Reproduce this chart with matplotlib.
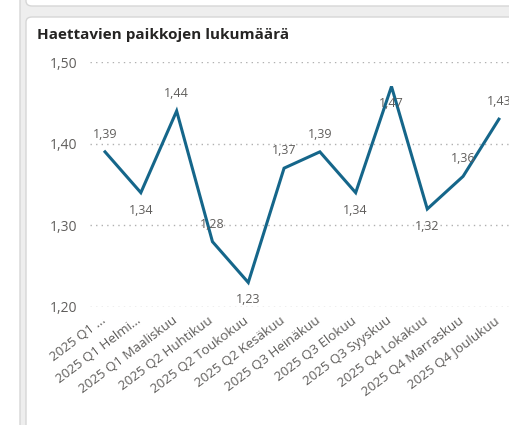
import matplotlib
matplotlib.use('Agg')
import matplotlib.pyplot as plt
import matplotlib.transforms as mtransforms
from matplotlib.patches import FancyBboxPatch

plt.rcParams['font.family'] = ['Open Sans', 'DejaVu Sans']

# data
months = ['2025 Q1 ...', '2025 Q1 Helmi...', '2025 Q1 Maaliskuu', '2025 Q2 Huhtikuu',
          '2025 Q2 Toukokuu', '2025 Q2 Kesäkuu', '2025 Q3 Heinäkuu', '2025 Q3 Elokuu',
          '2025 Q3 Syyskuu', '2025 Q4 Lokakuu', '2025 Q4 Marraskuu', '2025 Q4 Joulukuu']
values = [1.39, 1.34, 1.44, 1.28, 1.23, 1.37, 1.39, 1.34, 1.47, 1.32, 1.36, 1.43]
label_above = [True, False, True, True, False, True, True, False, False, False, True, True]
yticks = [1.20, 1.30, 1.40, 1.50]

W, H = 510, 425
fig = plt.figure(figsize=(W / 100, H / 100), dpi=100)
fig.patch.set_facecolor('#eeeeee')

def card(x0, y0, x1, y1):
    # pixel coords, y from top
    p = FancyBboxPatch((x0 / W, 1 - y1 / H), (x1 - x0) / W, (y1 - y0) / H,
                       boxstyle='round,pad=0,rounding_size=0.012',
                       transform=fig.transFigure, facecolor='white',
                       edgecolor='#d6d6d6', linewidth=1.0, zorder=-5)
    fig.patches.append(p)

card(-20, -20, 20, 440)
card(26, -20, 540, 6)
card(26, 17, 540, 440)

fig.text(37 / W, 1 - 35 / H, 'Haettavien paikkojen lukumäärä', fontsize=11,
         fontweight='bold', color='#252423', va='center', ha='left')

ax = fig.add_axes([90 / W, 1 - 307 / H, (510 - 90) / W, (307 - 62) / H])
ax.set_facecolor('none')
x = list(range(len(values)))
ax.plot(x, values, color='#15668a', linewidth=2.2, solid_joinstyle='miter', zorder=3)

ax.set_xlim(-0.42, 11.31)
ax.set_ylim(1.20, 1.50)
ax.set_yticks(yticks)
ax.set_yticklabels([f'{v:.2f}'.replace('.', ',') for v in yticks],
                   fontsize=10, color='#605e5c')
ax.tick_params(axis='y', length=0, pad=9)
ax.tick_params(axis='x', length=0, pad=5)
ax.set_xticks(x)
ax.set_xticklabels(months, rotation=37, ha='right', rotation_mode='anchor',
                   fontsize=9.6, color='#605e5c')
shift = mtransforms.ScaledTranslation(-5 / 100, 0, fig.dpi_scale_trans)
for t in ax.get_xticklabels():
    t.set_transform(t.get_transform() + shift)
ax.grid(axis='y', linestyle=(0, (1, 3)), color='#b0b0b0', linewidth=1)
ax.set_axisbelow(True)
for s in ax.spines.values():
    s.set_visible(False)

for i, v in enumerate(values):
    off = 12.5 if label_above[i] else -12.5
    ax.annotate(f'{v:.2f}'.replace('.', ','), (i, v), xytext=(0, off),
                textcoords='offset points', ha='center', va='center',
                fontsize=9, color='#605e5c', zorder=4, annotation_clip=False)

fig.savefig('out.png', dpi=100)
